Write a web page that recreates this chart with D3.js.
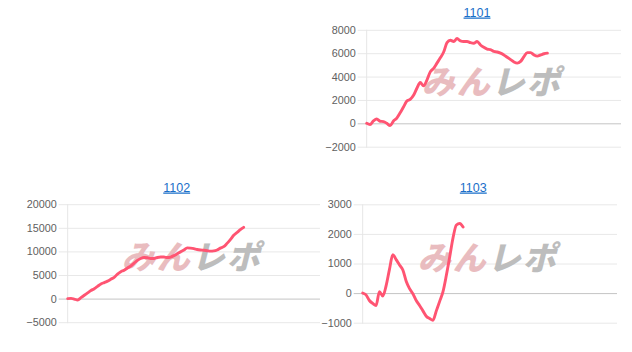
<!DOCTYPE html>
<html><head><meta charset="utf-8">
<script src="https://cdn.jsdelivr.net/npm/d3@7"></script>
<style>body{margin:0;background:#fff}svg{display:block}</style></head>
<body>
<script>
const titles = ["1101", "1102", "1103"];
const xSlots = 76;
const series1101 = [0,-100,200,370,180,150,0,-200,200,450,900,1400,1900,2050,2400,3000,3500,3200,3700,4400,4700,5150,5600,6100,6900,7100,7000,7250,7050,7000,7000,6900,6850,7000,6700,6500,6350,6300,6150,6100,6000,5850,5650,5450,5250,5150,5300,5700,6050,6050,5850,5750,5850,5950,6000];
const series1102 = [0,50,-100,-300,200,700,1200,1700,2100,2600,3100,3400,3700,4100,4500,5200,5700,6000,6500,6900,7500,8100,8500,8700,8650,8500,8500,8700,8800,8800,8700,8800,9100,9500,9900,10300,10750,10700,10600,10400,10300,10250,10150,10050,10100,10300,10700,11000,11700,12500,13400,14000,14600,15100];
const series1103 = [0,-60,-250,-350,-420,50,-100,250,800,1300,1130,950,780,400,150,-20,-250,-420,-600,-780,-860,-920,-600,-280,50,600,1220,1870,2300,2350,2230];
const ticks1101 = [-2000,0,2000,4000,6000,8000];
const ticks1102 = [-5000,0,5000,10000,15000,20000];
const ticks1103 = [-1000,0,1000,2000,3000];
const watermarkA = "みん";
const watermarkB = "レポ";

const panels = [
  {title: titles[0], data: series1101, ticks: ticks1101, left: 366.7, right: 621, top: 29.8, bottom: 146.7, tx: 477, ty: 16.5},
  {title: titles[1], data: series1102, ticks: ticks1102, left: 67.7, right: 320, top: 204.2, bottom: 322.2, tx: 176.7, ty: 191.5},
  {title: titles[2], data: series1103, ticks: ticks1103, left: 362.7, right: 617, top: 204.3, bottom: 322.7, tx: 473.3, ty: 191.5}
];

const svg = d3.select("body").append("svg").attr("width", 632).attr("height", 352);

panels.forEach(p => {
  const g = svg.append("g");
  const x = d3.scaleLinear().domain([0, xSlots]).range([p.left, p.right]);
  const y = d3.scaleLinear().domain(d3.extent(p.ticks)).range([p.bottom, p.top]);

  g.append("text").attr("x", p.tx).attr("y", p.ty).attr("text-anchor", "middle")
    .attr("font-family", "Liberation Sans, Arial, sans-serif").attr("font-size", 12.5)
    .attr("fill", "#1a6fc9").attr("text-decoration", "underline").text(p.title);

  const axis = d3.axisLeft(y).tickValues(p.ticks).tickSize(-(p.right - p.left) - 9).tickPadding(2).tickFormat(d3.format("d"));
  const ag = g.append("g").attr("transform", `translate(${p.left - 9},0)`).call(axis);
  ag.select(".domain").remove();
  ag.selectAll(".tick line").attr("stroke", d => d === 0 ? "#c4c4c4" : "#e8e8e8").attr("stroke-width", 1);
  ag.selectAll(".tick text").attr("fill", "#606060").attr("font-size", 10.8)
    .attr("font-family", "Liberation Sans, Arial, sans-serif");

  g.append("line").attr("x1", p.left).attr("x2", p.left).attr("y1", p.top).attr("y2", p.bottom + 1)
    .attr("stroke", "#e6e6e6");

  const cx = (p.left + p.right) / 2 - 2;
  const cy = (p.top + p.bottom) / 2 + 6;
  const wm = g.append("text").attr("transform", `translate(${cx},${cy}) skewX(-14)`)
    .attr("text-anchor", "middle").attr("font-family", "Noto Sans CJK JP").attr("font-weight", 900)
    .attr("font-size", 33).attr("letter-spacing", 2);
  wm.append("tspan").attr("fill", "#e9bcbf").text(watermarkA);
  wm.append("tspan").attr("fill", "#bdbdbd").text(watermarkB);

  const line = d3.line().x((d, i) => x(i)).y(d => y(d)).curve(d3.curveMonotoneX);
  g.append("path").datum(p.data).attr("d", line).attr("fill", "none")
    .attr("stroke", "#ff5472").attr("stroke-width", 2.9).attr("stroke-linejoin", "round").attr("stroke-linecap", "round");
});
</script>
</body></html>
